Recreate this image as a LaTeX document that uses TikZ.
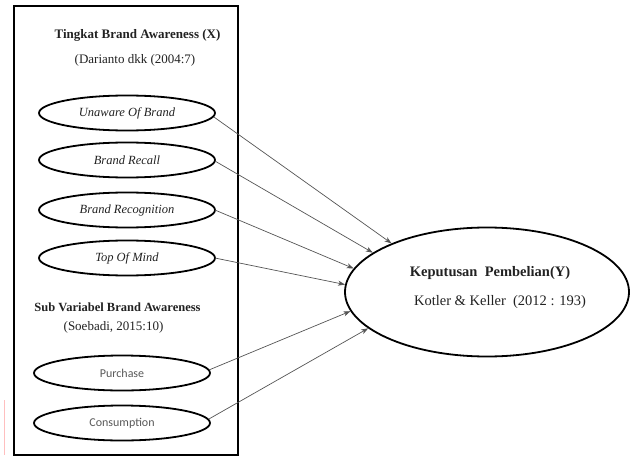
\documentclass[tikz,border=0pt]{standalone}
\usepackage{fontspec}
\setmainfont{Liberation Serif}
\newfontfamily\calib{Carlito}
\usetikzlibrary{shapes.geometric,arrows.meta}
\definecolor{txt}{HTML}{222222}
\definecolor{lin}{HTML}{555555}
\tikzset{
  item/.style={ellipse,draw=black,line width=1.8pt,minimum width=176pt,minimum height=35pt,inner sep=0pt,
    font=\fontsize{12.5}{14}\selectfont\itshape,text=txt},
  itemsans/.style={item,font=\calib\fontsize{12}{14}\selectfont,text=black!65},
  big/.style={ellipse,draw=black,line width=1.8pt,minimum width=284pt,minimum height=129pt,inner sep=0pt},
  lbl/.style={inner sep=0pt,text=txt},
  conn/.style={draw=lin,line width=0.7pt,-{Stealth[length=7pt,width=5pt,inset=2pt]}},
  frame/.style={draw=black,line width=1.3pt,minimum width=224pt,minimum height=449pt,inner sep=0pt}
}
\begin{document}
\begin{tikzpicture}[x=1pt,y=-1pt]
\useasboundingbox (0,0) rectangle (636,465);
\fill[white] (0,0) rectangle (636,465);
\node[frame] (box) at (126,230.5) {};
\draw[red!25,line width=0.6pt] (4,400) -- (4,455);

\node[lbl,font=\fontsize{13}{15}\selectfont\bfseries] (t1) at (137.5,35) {Tingkat Brand Awareness (X)};
\node[lbl,font=\fontsize{13}{15}\selectfont] (t2) at (135,60) {(Darianto dkk (2004:7)};

\node[item] (u) at (127,113) {Unaware Of Brand};
\node[item] (r) at (127,160) {Brand Recall};
\node[item] (g) at (127,210) {Brand Recognition};
\node[item] (m) at (127,258) {Top Of Mind};

\node[lbl,font=\fontsize{12.5}{15}\selectfont\bfseries] (s1) at (117.5,307) {Sub Variabel Brand Awareness};
\node[lbl,font=\fontsize{13}{15}\selectfont] (s2) at (113.5,327) {(Soebadi, 2015:10)};

\node[itemsans] (p) at (122,373) {Purchase};
\node[itemsans] (c) at (122,423) {Consumption};

\node[big] (y) at (487,292) {};
\node[lbl,font=\fontsize{14.5}{17}\selectfont\bfseries] (y1) at (490,273) {Keputusan\ \ Pembelian(Y)};
\node[lbl,font=\fontsize{14.5}{17}\selectfont] (y2) at (500,302) {Kotler \& Keller\ \ (2012 : 193)};

\draw[conn] ([xshift=-2pt,yshift=-4pt]u.east) -- (y.153.9);
\draw[conn] ([xshift=-1pt,yshift=-1pt]r.east) -- (y.161);
\draw[conn] ([xshift=-1pt]g.east) -- (y.170.6);
\draw[conn] ([xshift=-1pt]m.east) -- (y.177.2);
\draw[conn] ([xshift=-2pt,yshift=3pt]p.east) -- (y.188.9);
\draw[conn] ([xshift=-2pt,yshift=4pt]c.east) -- (y.197.1);
\end{tikzpicture}
\end{document}
